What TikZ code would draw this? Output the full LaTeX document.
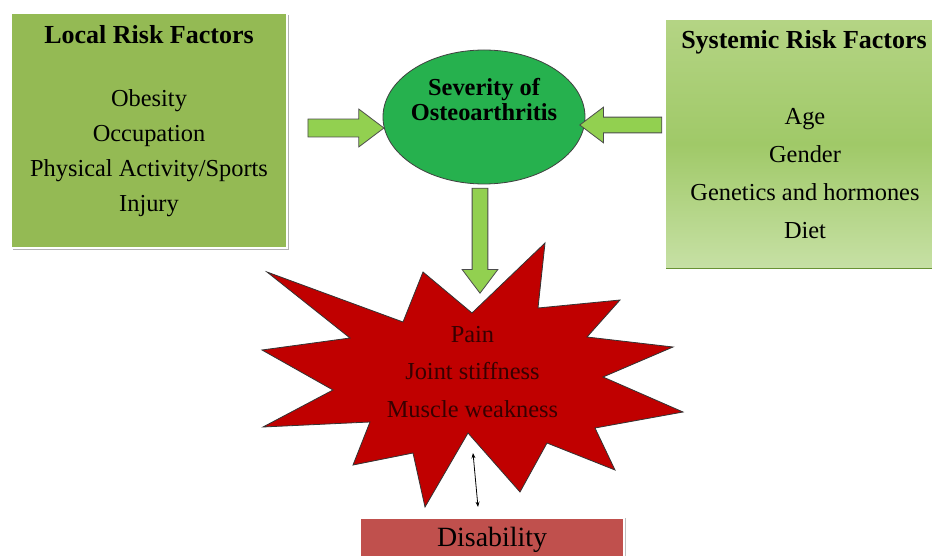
\documentclass[tikz,border=0pt]{standalone}
\usepackage{fontspec}
\setmainfont{Liberation Serif}
\usetikzlibrary{shapes.geometric,shapes.arrows,shadows,arrows.meta}

\definecolor{localgreen}{RGB}{148,186,84}
\definecolor{systop}{RGB}{180,212,132}
\definecolor{sysmid}{RGB}{160,201,104}
\definecolor{sysbottom}{RGB}{198,224,164}
\definecolor{sysedge}{RGB}{104,146,52}
\definecolor{sevgreen}{RGB}{38,177,78}
\definecolor{arrowgreen}{RGB}{146,208,80}
\definecolor{starred}{RGB}{192,0,0}
\definecolor{disred}{RGB}{192,80,77}
\definecolor{startext}{RGB}{55,0,0}

\begin{document}
\begin{tikzpicture}[
        x=0.75pt, y=-0.75pt,
        every node/.style={align=center, inner sep=0pt},
        factorbox/.style={rectangle, minimum width=207pt},
        boxtitle/.style={font=\fontsize{19.5}{22}\selectfont\bfseries},
        boxitems/.style={font=\fontsize{18.3}{#1}\selectfont},
        blockarrow/.style={single arrow, draw=black!70, fill=arrowgreen, line width=0.6pt,
            inner xsep=0pt, single arrow tip angle=74, single arrow head extend=7.5pt}
    ]
        \useasboundingbox (0,0) rectangle (932,556);
        \clip (0,0) rectangle (932,556);

        % --- risk factor boxes ---
        \node[factorbox, minimum height=176.25pt, fill=localgreen, draw=white, line width=1.2pt,
            drop shadow={shadow xshift=1.2pt, shadow yshift=-1.5pt, fill=black!30, opacity=1}]
            (local) at (149,130.5) {};
        \node[boxtitle] (localtitle) at (149,35) {Local Risk Factors};
        \node[boxitems=26.25pt] (localitems) at (149,153)
            {Obesity\\Occupation\\Physical Activity/Sports\\Injury};

        \node[factorbox, minimum height=184.5pt, top color=systop, bottom color=sysbottom, middle color=sysmid,
            drop shadow={shadow xshift=0pt, shadow yshift=-1.8pt, fill=sysedge, opacity=1}]
            (systemic) at (804,144) {};
        \node[boxtitle] (systitle) at (804,42) {Systemic Risk Factors};
        \node[boxitems=28.5pt] (sysitems) at (805,174)
            {Age\\Gender\\Genetics and hormones\\Diet};

        % --- severity ellipse ---
        \node[ellipse, minimum width=151.5pt, minimum height=100.5pt, fill=sevgreen, draw=black!75,
            line width=0.6pt] (sev) at (484,117) {};
        \node[font=\fontsize{18.3}{18.75}\selectfont\bfseries] (sevlabel) at (484,100)
            {Severity of\\Osteoarthritis};

        % --- block arrows into and out of the ellipse ---
        \node[blockarrow, minimum height=57pt, inner ysep=6.4pt] (larrow) at (340,128) {};
        \node[blockarrow, rotate=180, minimum height=61.5pt, inner ysep=5.6pt] (rarrow) at (626,125) {};
        \node[blockarrow, rotate=-90, minimum height=78.75pt, inner ysep=5.6pt] (darrow) at (480,235.5) {};

        % --- symptom burst ---
        \draw[fill=starred, draw=black!80, line width=0.6pt, line join=miter]
            (262,350) -- (350,338) -- (267,272) -- (403,322) -- (423,272) -- (472,313)
            -- (545,243) -- (538,308) -- (620,300) -- (587,337) -- (673,347) -- (603,377)
            -- (683,412) -- (595,428) -- (615,470) -- (547,443) -- (520,492) -- (468,433)
            -- (425,507) -- (413,453) -- (353,465) -- (370,422) -- (263,427) -- (333,390) -- cycle;
        \node[boxitems=28pt, text=startext] (symptoms) at (472.5,372)
            {Pain\\Joint stiffness\\Muscle weakness};

        % --- disability ---
        \node[rectangle, minimum width=198pt, minimum height=33pt, fill=disred, draw=white, line width=1pt,
            drop shadow={shadow xshift=1.5pt, shadow yshift=0pt, fill=black!25, opacity=1},
            font=\fontsize{20.9}{24}\selectfont] (dis) at (492,540) {Disability};

        \coordinate (notch) at (473,453);
        \coordinate (distop) at (478,507);
        \draw[{Stealth[length=4pt,width=3pt]}-{Stealth[length=4pt,width=3pt]}, line width=0.6pt]
            (notch) -- (distop);
    \end{tikzpicture}
\end{document}
